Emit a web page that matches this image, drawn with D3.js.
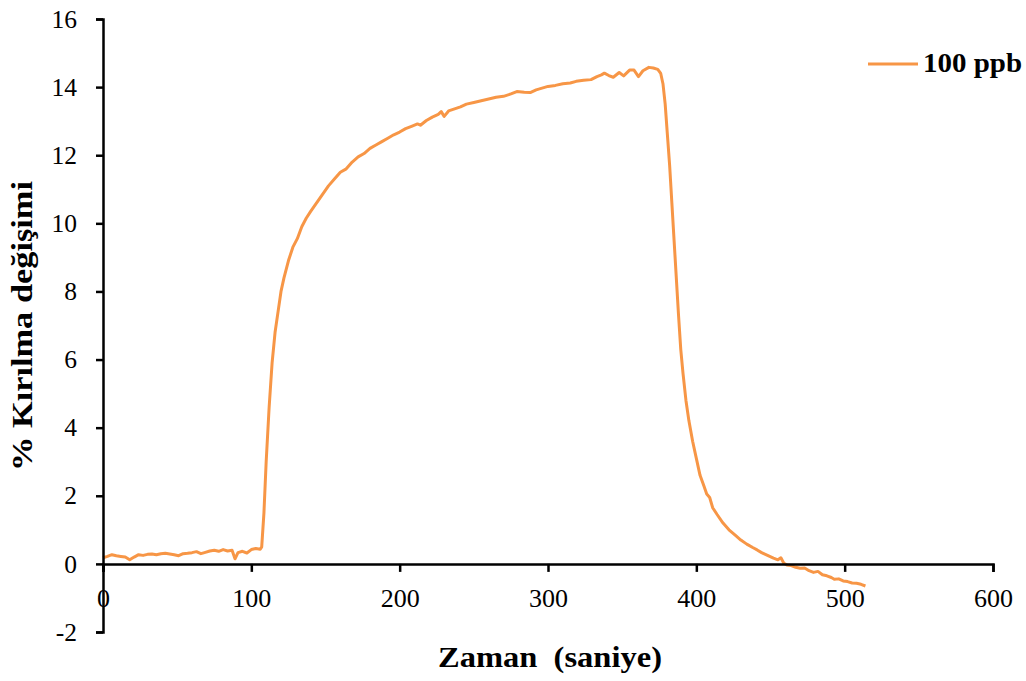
<!DOCTYPE html>
<html>
<head>
<meta charset="utf-8">
<script src="https://cdn.jsdelivr.net/npm/d3@7"></script>
<style>
  html, body { margin: 0; padding: 0; background: #fff; }
  svg { display: block; }
  svg text { font-family: "Liberation Serif", "Times New Roman", serif; }
</style>
</head>
<body>
<svg id="chart" width="1026" height="681"></svg>
<script>
// ---- data ----
const seriesName = "100 ppb";
const timeSec = [
  0,3,6,9,12,15,18,21,24,27,30,33,36,39,42,45,48,51,54,57,60,63,66,69,72,75,78,81,84,87,89,91,94,97,100,103,106,
  107,108.5,110,112,114,116,118,120,122,125,128,131,134,137,140,144,148,152,156,160,164,168,172,176,180,184,188,192,196,200,204,208,212,214,218,222,226,228,230,233,237,241,245,250,255,260,265,270,275,279,284,288,292,296,300,305,310,315,319,324,329,333,336,338,341,344,348,351,355,358,361,364,368,371,374,376,
  377.5,379,380.5,382,383.5,385,386.5,388,389.5,391,393,395,397.5,400,402.5,405,407,409,411,414,418,422,426,430,434,438,441,444,448,452,455,457,459,461,464,467,470,473,476,479,482,485,488,491,493,496,499,502,505,508,511,514
];
const changePct = [
  0.18,0.22,0.27,0.24,0.22,0.2,0.12,0.2,0.27,0.25,0.28,0.29,0.27,0.3,0.31,0.29,0.27,0.24,0.3,0.31,0.33,0.36,0.3,0.34,0.38,0.4,0.37,0.42,0.38,0.4,0.15,0.33,0.37,0.32,0.42,0.45,0.43,
  0.5,1.5,3.0,4.6,5.9,6.8,7.4,8.0,8.4,8.9,9.3,9.55,9.9,10.15,10.35,10.6,10.85,11.1,11.3,11.5,11.6,11.8,11.95,12.05,12.2,12.3,12.4,12.5,12.6,12.68,12.78,12.85,12.92,12.88,13.02,13.12,13.2,13.28,13.14,13.3,13.36,13.42,13.5,13.55,13.6,13.65,13.7,13.73,13.8,13.87,13.85,13.84,13.92,13.97,14.02,14.05,14.1,14.12,14.17,14.2,14.22,14.31,14.36,14.41,14.34,14.29,14.43,14.33,14.5,14.5,14.31,14.48,14.58,14.56,14.52,14.4,
  14.1,13.5,12.6,11.7,10.6,9.5,8.4,7.3,6.3,5.6,4.8,4.2,3.6,3.1,2.6,2.3,2.05,1.95,1.65,1.45,1.2,1.0,0.85,0.7,0.58,0.48,0.41,0.33,0.25,0.17,0.12,0.18,0.02,-0.03,-0.05,-0.1,-0.13,-0.12,-0.2,-0.25,-0.22,-0.32,-0.35,-0.4,-0.45,-0.44,-0.5,-0.52,-0.56,-0.57,-0.6,-0.65
];
const xTicks = [0,100,200,300,400,500,600];
const yTicks = [-2,0,2,4,6,8,10,12,14,16];
const xTitle = "Zaman  (saniye)";
const yTitle = "% Kırılma değişimi";

// ---- drawing ----
const svg = d3.select("#chart");
const x = d3.scaleLinear().domain([0, 600]).range([103, 993]);
const y = d3.scaleLinear().domain([-2, 16]).range([632, 19]);
const color = "#F79646";
const font = "'Liberation Serif', 'Times New Roman', serif";
const fmt = d => (d < 0 ? "-" + Math.abs(d) : String(d));

// curve
const points = timeSec.map((t, i) => [t, changePct[i]]);
svg.append("path")
  .datum(points)
  .attr("fill", "none")
  .attr("stroke", color)
  .attr("stroke-width", 3)
  .attr("stroke-linejoin", "round")
  .attr("d", d3.line().x(d => x(d[0])).y(d => y(d[1])));

// y axis
const yAxis = svg.append("g")
  .attr("transform", `translate(${x(0)},0)`)
  .call(d3.axisLeft(y).tickValues(yTicks).tickSize(7).tickPadding(19).tickFormat(fmt));
yAxis.attr("font-family", font);
yAxis.select(".domain").attr("stroke", "#000").attr("stroke-width", 2.5);
yAxis.selectAll(".tick line").attr("stroke", "#000").attr("stroke-width", 2.5);
yAxis.selectAll(".tick text").style("font-family", font).style("font-size", "25.5px").attr("fill", "#000");

// x axis (at y = 0)
const xAxis = svg.append("g")
  .attr("transform", `translate(0,${y(0)})`)
  .call(d3.axisBottom(x).tickValues(xTicks).tickSize(8).tickPadding(17).tickFormat(fmt));
xAxis.attr("font-family", font);
xAxis.select(".domain").attr("stroke", "#000").attr("stroke-width", 2.5);
xAxis.selectAll(".tick line").attr("stroke", "#000").attr("stroke-width", 2.5);
xAxis.selectAll(".tick text").style("font-family", font).style("font-size", "26px").attr("fill", "#000");

// axis titles
svg.append("text")
  .attr("x", 550).attr("y", 667)
  .attr("text-anchor", "middle")
  .style("font-family", font).attr("font-weight", "bold").attr("font-size", 29)
  .attr("textLength", 224).attr("lengthAdjust", "spacingAndGlyphs")
  .style("white-space", "pre")
  .text(xTitle);

svg.append("text")
  .attr("transform", "translate(32,326) rotate(-90)")
  .attr("text-anchor", "middle")
  .style("font-family", font).attr("font-weight", "bold").attr("font-size", 29)
  .attr("textLength", 290).attr("lengthAdjust", "spacingAndGlyphs")
  .text(yTitle);

// legend
svg.append("line")
  .attr("x1", 868).attr("x2", 918).attr("y1", 64).attr("y2", 64)
  .attr("stroke", color).attr("stroke-width", 3);
svg.append("text")
  .attr("x", 923).attr("y", 72)
  .style("font-family", font).attr("font-weight", "bold").attr("font-size", 27)
  .attr("textLength", 99).attr("lengthAdjust", "spacingAndGlyphs")
  .text(seriesName);
</script>
</body>
</html>
